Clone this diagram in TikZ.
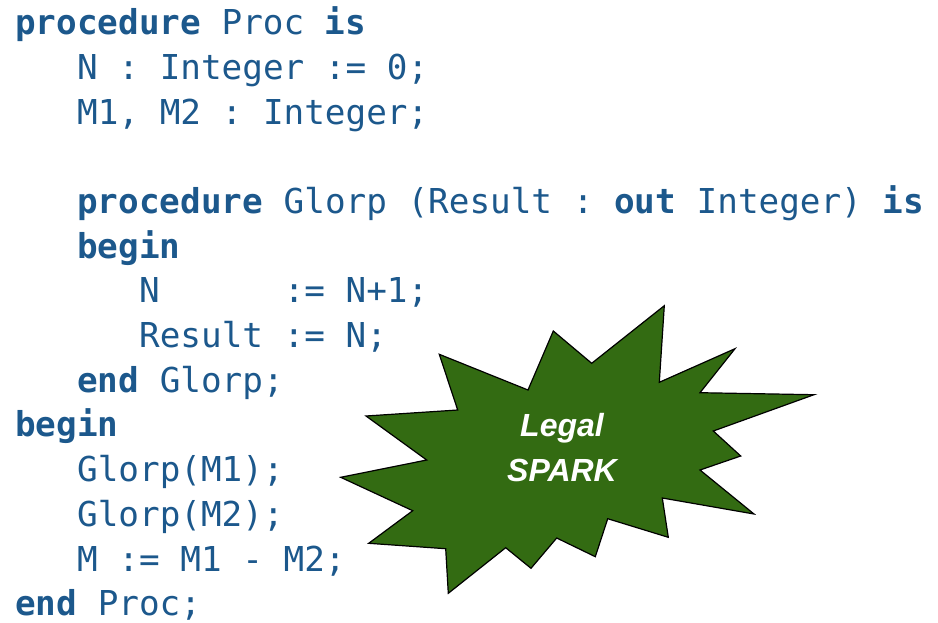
\documentclass[tikz,border=0pt]{standalone}
\usepackage{fontspec}
\setmonofont{DejaVu Sans Mono}
\newfontfamily\sparkfont{Liberation Sans}
\usetikzlibrary{positioning}
\definecolor{codeblue}{RGB}{28,88,140}
\definecolor{sparkgreen}{RGB}{51,107,18}
\newcommand{\kw}[1]{\textbf{#1}}

\begin{document}
\begin{tikzpicture}[x=1pt,y=-1pt,
  codeline/.style={font=\ttfamily\fontsize{34.3}{44.7}\selectfont,text=codeblue,anchor=base west,inner sep=0pt},
  burst/.style={fill=sparkgreen,draw=black,line width=1.2pt,line join=miter}]
\useasboundingbox (0,0) rectangle (938,622);

% code listing, one node per line
\node[codeline] (l0) at (15, 34.6) {\kw{procedure} Proc \kw{is}};
\node[codeline] (l1) at (77, 79.3) {N : Integer := 0;};
\node[codeline] (l2) at (77, 124.0) {M1, M2 : Integer;};
\node[codeline] (l4) at (77, 213.4) {\kw{procedure} Glorp (Result : \kw{out} Integer) \kw{is}};
\node[codeline] (l5) at (77, 258.1) {\kw{begin}};
\node[codeline] (l6) at (139, 302.8) {N\ \ \ \ \ \ := N+1;};
\node[codeline] (l7) at (139, 347.5) {Result := N;};
\node[codeline] (l8) at (77, 392.2) {\kw{end} Glorp;};
\node[codeline] (l9) at (15, 436.9) {\kw{begin}};
\node[codeline] (l10) at (77, 481.6) {Glorp(M1);};
\node[codeline] (l11) at (77, 526.3) {Glorp(M2);};
\node[codeline] (l12) at (77, 571.0) {M := M1 - M2;};
\node[codeline] (l13) at (15, 615.7) {\kw{end} Proc;};

% starburst
\draw[burst] (664.3,305.7) -- (659.3,382.3) -- (735,348.7) -- (700,392.7)
  -- (814,394.7) -- (713.3,431) -- (740.7,456) -- (700,470)
  -- (754,514) -- (662.3,498) -- (668.3,537.3) -- (607.7,518.7)
  -- (595.3,556.7) -- (556.7,538) -- (531,568.3) -- (505.7,547.7)
  -- (448.3,593.3) -- (445.7,548.7) -- (368.7,543.3) -- (412.7,510.7)
  -- (340.7,477.3) -- (426.7,460) -- (366,416) -- (457.7,410)
  -- (439.3,354.3) -- (528,390) -- (553.3,331) -- (591.7,363.3) -- cycle;
\node[font=\sparkfont\bfseries\itshape\fontsize{32}{45}\selectfont,text=white,align=center] (spark) at (562,448) {Legal\\SPARK};

\end{tikzpicture}
\end{document}
